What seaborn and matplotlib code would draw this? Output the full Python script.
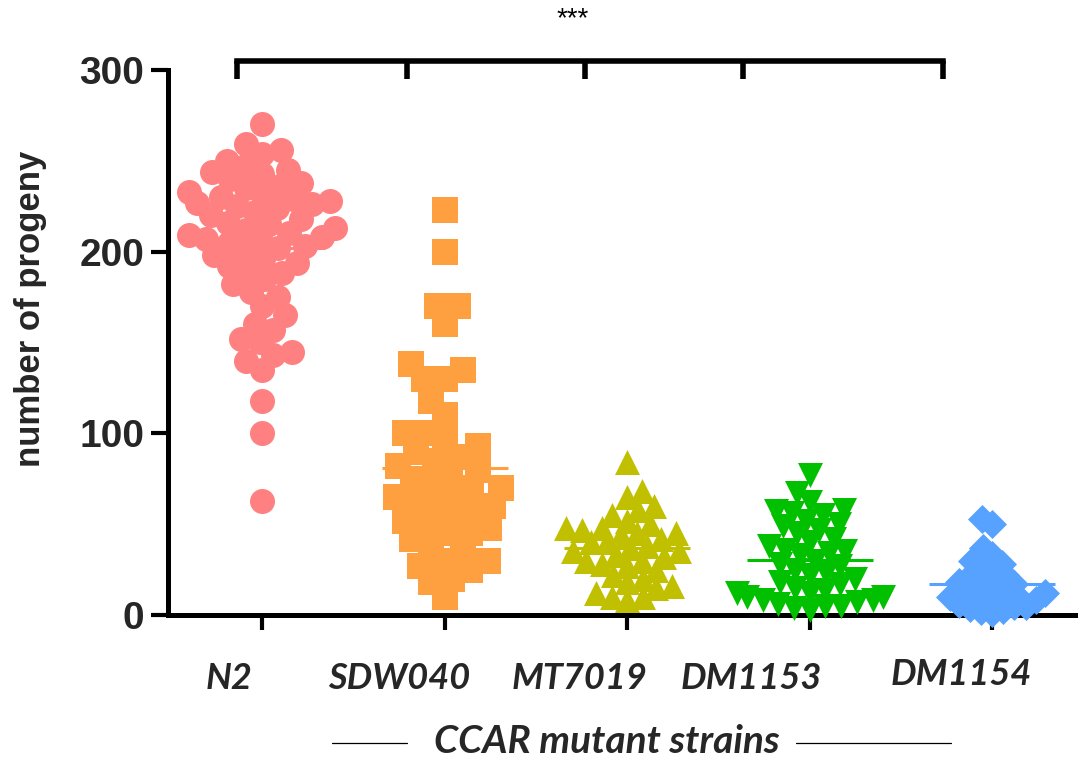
import numpy as np
import pandas as pd
import matplotlib
matplotlib.use('Agg')
import matplotlib.pyplot as plt
from matplotlib.lines import Line2D
import seaborn as sns

# data
strains = ['N2', 'SDW040', 'MT7019', 'DM1153', 'DM1154']
n2 = [270, 259, 256, 254, 250, 247, 245, 244, 243, 240, 238, 236, 235, 233, 231,
      230, 229, 228, 227, 226, 225, 224, 222, 220, 218, 216, 215, 213, 212, 210,
      209, 208, 207, 206, 205, 203, 202, 200, 198, 196, 194, 192, 190, 188, 185,
      182, 178, 175, 170, 165, 160, 157, 152, 150, 145, 143, 140, 135, 118, 100, 63]
sdw040 = [223, 200, 170, 170, 160, 138, 135, 130, 130, 118, 110, 100, 100, 97, 93,
          90, 87, 85, 82, 80, 78, 75, 72, 70, 70, 67, 65, 63, 60, 60, 57, 55, 52,
          50, 48, 45, 45, 42, 38, 35, 30, 30, 27, 25, 20, 18, 10]
mt7019 = [84, 68, 65, 60, 58, 55, 52, 50, 48, 48, 47, 45, 45, 44, 42, 40, 40, 38,
          37, 35, 35, 33, 32, 30, 30, 28, 27, 25, 22, 20, 18, 16, 15, 12, 10, 10, 8]
dm1153 = [77, 67, 62, 58, 57, 56, 55, 52, 50, 49, 47, 45, 42, 40, 38, 36, 35, 34,
          33, 30, 28, 27, 25, 23, 22, 20, 18, 17, 15, 14, 12, 12, 10, 10, 8, 8, 7,
          6, 5, 5, 4, 3]
dm1154 = [53, 50, 37, 33, 30, 28, 27, 25, 23, 22, 20, 19, 18, 17, 16, 15, 14, 13,
          12, 12, 11, 10, 10, 9, 8, 8, 7, 6, 5, 5, 4, 3, 2, 1]
yticks = [0, 100, 200, 300]

groups = [n2, sdw040, mt7019, dm1153, dm1154]
df = pd.DataFrame({
    'strain': np.repeat(strains, [len(g) for g in groups]),
    'progeny': np.concatenate(groups),
})

colors = ['#FF8080', '#FFA040', '#C0C000', '#00C000', '#58A2FF']
markers = ['o', 's', '^', 'v', 'D']
swarm_size = [13, 14, 11, 11, 8]        # size used to lay out the swarm
marker_size = [18, 18.5, 18, 18, 14.8]  # size actually drawn (GraphPad style overlap)

sns.set_theme(style='ticks')
plt.rcParams['font.family'] = ['Liberation Sans', 'DejaVu Sans']

W, H = 1078, 763
fig = plt.figure(figsize=(W / 100, H / 100), dpi=100)
ax = fig.add_axes([168 / W, 148 / H, 910 / W, 545 / H])

swarms = []
for i, s in enumerate(strains):
    before = len(ax.collections)
    sns.swarmplot(data=df[df.strain == s], x='strain', y='progeny', order=strains,
                  color=colors[i], marker=markers[i], size=swarm_size[i],
                  linewidth=0, warn_thresh=1, ax=ax)
    for c in ax.collections[before:]:
        if len(c.get_offsets()) > 0:
            swarms.append((c, marker_size[i]))

ax.set_xlim(-0.515, 4.47)
ax.set_ylim(0, 300)

# lay the swarm out with the small size, then blow the markers up
fig.canvas.draw()
for coll, ms in swarms:
    if 'draw' in coll.__dict__:
        del coll.draw
    coll.set_sizes([ms ** 2])
    coll.set_clip_on(False)

# mean lines
for i, s in enumerate(strains):
    m = df.loc[df.strain == s, 'progeny'].mean()
    ax.hlines(m, i - 0.345, i + 0.345, color=colors[i], lw=2.2, zorder=3)

ax.set_xlim(-0.515, 4.47)
ax.set_ylim(0, 300)

sns.despine(ax=ax)
ax.spines['left'].set_linewidth(3.6)
ax.spines['bottom'].set_linewidth(3.6)
ax.spines['left'].set_bounds(0, 300)
ax.spines['left'].set_color('black')
ax.spines['bottom'].set_color('black')

ax.set_yticks(yticks)
ax.set_yticklabels([str(t) for t in yticks], fontsize=28, fontweight='bold')
ax.tick_params(axis='y', length=12, width=3, pad=5, color='black')
ax.tick_params(axis='x', length=11, width=3, color='black', labelbottom=False)
ax.set_xlabel('')
ax.set_ylabel('')

# strain labels, placed a little left of each tick like the original
lab_dx = [-0.18, -0.25, -0.26, -0.32, -0.17]
lab_y = [-41, -41, -41, -41, -38.5]
for i, s in enumerate(strains):
    ax.text(i + lab_dx[i], lab_y[i], s, ha='center', va='baseline', fontsize=26,
            fontweight='bold', style='italic', family=['Lato', 'DejaVu Sans'],
            clip_on=False)

fig.text(31 / W, 1 - 309 / H, 'number of progeny', rotation=90, ha='center',
         va='center', fontsize=25, fontweight='bold')

fig.text(607 / W, 1 - 753 / H, 'CCAR mutant strains', ha='center', va='baseline',
         fontsize=28, fontweight='bold', style='italic', family=['Lato', 'DejaVu Sans'])
fig.add_artist(Line2D([332 / W, 407 / W], [1 - 743 / H] * 2, color='black', lw=0.9))
fig.add_artist(Line2D([796 / W, 951 / W], [1 - 743 / H] * 2, color='black', lw=0.9))

# significance bracket
br_x = [-0.137, 0.795, 1.77, 2.636, 3.73]
ax.plot([br_x[0], br_x[-1]], [305, 305], color='black', lw=4, clip_on=False,
        solid_capstyle='projecting')
for bx in br_x:
    ax.plot([bx, bx], [305, 295], color='black', lw=4, clip_on=False,
            solid_capstyle='butt')
ax.text(1.70, 328, '***', ha='center', va='center', fontsize=20, color='black')

fig.savefig('out.png', dpi=100)
